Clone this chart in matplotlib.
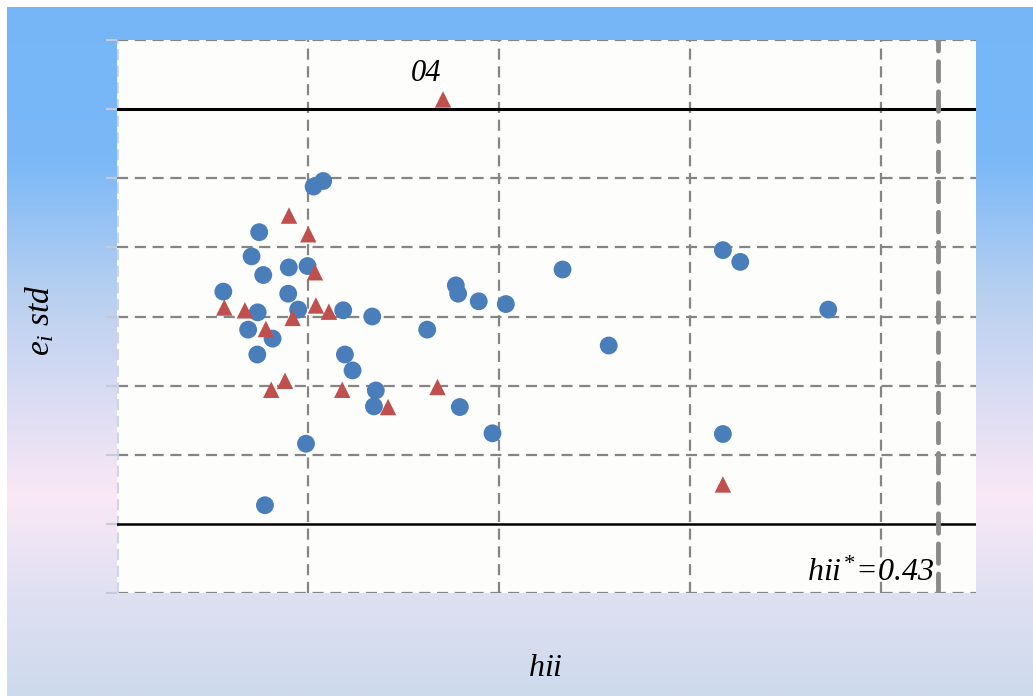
import numpy as np
import matplotlib
matplotlib.use("Agg")
import matplotlib.pyplot as plt

plt.rcParams['mathtext.fontset'] = 'custom'
plt.rcParams['mathtext.it'] = 'Liberation Serif:italic'
plt.rcParams['mathtext.rm'] = 'Liberation Serif:italic'
plt.rcParams['mathtext.default'] = 'it'

# leverage (hii) and standardized residuals
hii_circle = [0.103, 0.108, 0.0745, 0.0705, 0.0766, 0.090, 0.0998, 0.0557, 0.0897,
              0.0949, 0.0737, 0.1185, 0.1337, 0.1625, 0.0687, 0.0815, 0.0735, 0.1194,
              0.1234, 0.1356, 0.1346, 0.099, 0.0775, 0.1775, 0.1787, 0.1895, 0.2037,
              0.2334, 0.2576, 0.1796, 0.1967, 0.3174, 0.3265, 0.3726, 0.3174]
e_circle = [1.88, 1.96, 1.22, 0.87, 0.60, 0.71, 0.73, 0.36, 0.33,
            0.10, 0.06, 0.09, 0.00, -0.19, -0.19, -0.32, -0.55, -0.55,
            -0.78, -1.07, -1.30, -1.84, -2.73, 0.45, 0.33, 0.22, 0.18,
            0.68, -0.42, -1.31, -1.69, 0.96, 0.79, 0.10, -1.70]

hii_tri = [0.0901, 0.1002, 0.1037, 0.0562, 0.067, 0.1042, 0.111, 0.092,
           0.078, 0.0808, 0.088, 0.118, 0.142, 0.1679, 0.3174, 0.1708]
e_tri = [1.46, 1.19, 0.64, 0.13, 0.09, 0.16, 0.07, -0.02,
         -0.18, -1.06, -0.93, -1.06, -1.31, -1.02, -2.43, 3.14]

hii_limit = 0.43
e_limit = 3

fig = plt.figure(figsize=(10.33, 6.96), dpi=100, facecolor='white')

# gradient background
bg = fig.add_axes([7/1033, 0, 1 - 7/1033, 1 - 7/696], zorder=-10)
stops = [0.0, 0.22, 0.42, 0.71, 0.86, 1.0]
cols = np.array([(118, 182, 248), (122, 184, 247), (185, 208, 240),
                 (250, 232, 246), (222, 224, 242), (205, 218, 236)]) / 255
t = np.linspace(0, 1, 400)
grad = np.stack([np.interp(t, stops, cols[:, i]) for i in range(3)], axis=1)
bg.imshow(grad[:, None, :], aspect='auto', extent=[0, 1, 1, 0])
bg.set_axis_off()

ax = fig.add_axes([117/1033, 1 - 593/696, 859/1033, 553/696])
ax.set_facecolor('#fdfdfb')
ax.set_xlim(0, 0.45)
ax.set_ylim(-4, 4)

for s in ax.spines.values():
    s.set_visible(False)

dash = dict(color='#858585', lw=1.6, ls=(0, (5, 3)), zorder=1)
for x in [0.1, 0.2, 0.3, 0.4]:
    ax.axvline(x, **dash)
for y in [-4, -2, -1, 0, 1, 2, 4]:
    ax.axhline(y, **dash)
ax.axvline(0, color='#c9d3ea', lw=2, ls=(0, (4, 2)), zorder=1)
ax.axhline(e_limit, color='black', lw=2.2, zorder=2)
ax.axhline(-e_limit, color='black', lw=1.8, zorder=2)
ax.axvline(hii_limit, color='#8a8a8a', lw=3.5, ls=(0, (4, 2.2)),
           dash_capstyle='round', zorder=2)

ax.scatter(hii_circle, e_circle, s=165, marker='o', color='#4a7ebb',
           edgecolors='none', zorder=3)
ax.scatter(hii_tri, e_tri, s=140, marker='^', color='#c0504d',
           edgecolors='none', zorder=4)

ax.text(0.1617, 3.3, '04', fontsize=22, family='Liberation Serif',
        style='italic', ha='center', va='bottom', zorder=5)
ax.text(0.4285, -3.83, r'$hii^{*}\!=\!0.43$', fontsize=23, ha='right',
        va='baseline', zorder=5)

ax.set_xticks([])
ax.set_yticks(range(-4, 5))
ax.tick_params(axis='y', length=8, color='#c5c9d8', width=1.5,
               labelleft=False)

fig.text(40/1033, 1 - 320/696, r'$e_{i}\ std$', rotation=90, fontsize=24,
         ha='center', va='center')
fig.text(545/1033, 1 - 668/696, r'$hii$', fontsize=23, ha='center',
         va='center')

fig.savefig('out.png', dpi=100)
